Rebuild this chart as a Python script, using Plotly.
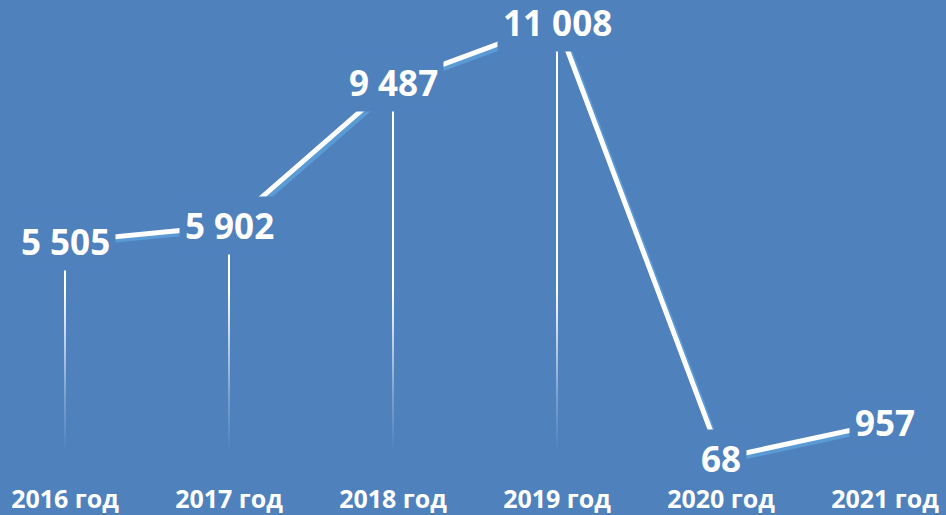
import plotly.graph_objects as go

years = ["2016 год", "2017 год", "2018 год", "2019 год", "2020 год", "2021 год"]
values = [5505, 5902, 9487, 11008, 68, 957]
labels = ["5 505", "5 902", "9 487", "11 008", "68", "957"]

BG = "#4F81BD"
x = list(range(len(years)))

pxu = 0.03985          # pixels per unit on y
zero_px = 461          # pixel row of y=0
plot_h = 470
ymin, ymax = -(plot_h - zero_px) / pxu, zero_px / pxu
xpx = 164.0
xmin, xmax = -65 / xpx, 5 + 61 / xpx
dy = 3.0 / pxu
dx = 3.0 / xpx
hw = 1.0 / xpx         # half width of drop line

fig = go.Figure()

# drop lines: thin rectangles with vertical fading gradient
for xi, v in zip(x, values):
    fig.add_trace(go.Scatter(
        x=[xi - hw, xi + hw, xi + hw, xi - hw, xi - hw],
        y=[0, 0, v, v, 0], mode="lines", line=dict(width=0),
        fill="toself",
        fillgradient=dict(type="vertical", start=200, stop=4300,
                          colorscale=[[0, "rgba(255,255,255,0)"],
                                      [0.35, "rgba(255,255,255,0.25)"],
                                      [0.7, "rgba(255,255,255,0.65)"],
                                      [1, "rgba(255,255,255,1)"]]),
        hoverinfo="skip", showlegend=False))

# shadow of the main line (on shifted axes)
fig.add_trace(go.Scatter(x=x, y=values, mode="lines", xaxis="x2", yaxis="y2",
                         line=dict(color="#5B9BD5", width=5),
                         hoverinfo="skip", showlegend=False))
# main line (on an overlay drawn above the shadow)
fig.add_trace(go.Scatter(x=x, y=values, mode="lines", xaxis="x3", yaxis="y3",
                         line=dict(color="white", width=5),
                         hoverinfo="skip", showlegend=False))

for xi, v, t in zip(x, values, labels):
    fig.add_annotation(x=xi, y=v, text=t, showarrow=False,
                       font=dict(family="Open Sans", size=35, color="white", weight="bold"),
                       bgcolor=BG, borderpad=5, xanchor="center", yanchor="middle")

fig.update_layout(
    width=946, height=515,
    margin=dict(l=0, r=0, t=0, b=515 - plot_h),
    paper_bgcolor=BG, plot_bgcolor=BG,
    showlegend=False,
    xaxis=dict(range=[xmin, xmax], tickvals=x, ticktext=years, showgrid=False,
               zeroline=False, showline=False, ticks="", ticklabelstandoff=12,
               tickfont=dict(family="Open Sans", size=25, color="white", weight="bold")),
    yaxis=dict(range=[ymin, ymax], visible=False, showgrid=False, zeroline=False),
    xaxis2=dict(range=[xmin - dx, xmax - dx], overlaying="x", visible=False),
    yaxis2=dict(range=[ymin + dy, ymax + dy], overlaying="y", visible=False),
    xaxis3=dict(range=[xmin, xmax], overlaying="x", visible=False),
    yaxis3=dict(range=[ymin, ymax], overlaying="y", visible=False),
)

fig.write_html("out.html", config={"displayModeBar": False},
               post_script="document.body.style.margin='0';")
